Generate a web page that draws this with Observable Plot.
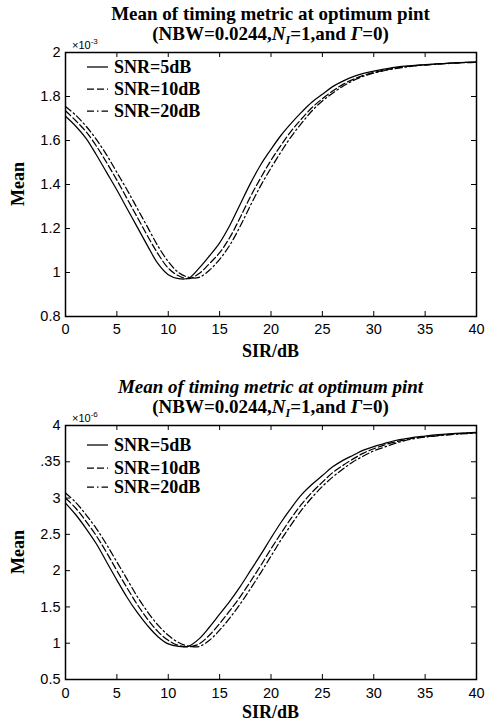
<!DOCTYPE html>
<html><head><meta charset="utf-8">
<script src="https://cdn.jsdelivr.net/npm/d3@7"></script>
<script src="https://cdn.jsdelivr.net/npm/@observablehq/plot@0.6"></script>
<style>body{margin:0;background:#fff} svg{display:block}</style>
</head><body><div id="c"></div>
<script>
const titleLine1 = "Mean of timing metric at optimum pint";
const seriesNames = ["SNR=5dB", "SNR=10dB", "SNR=20dB"];
const xLabel = "SIR/dB";
const yLabel = "Mean";
const sir = d3.range(0, 41); // SIR/dB sample positions 0..40
const xTicks = [0, 5, 10, 15, 20, 25, 30, 35, 40];

// Top chart (×10^-3)
const topTicks = [0.8, 1, 1.2, 1.4, 1.6, 1.8, 2];
const topTickLabels = ["0.8", "1", "1.2", "1.4", "1.6", "1.8", "2"];
const top5 = [1.71,1.665,1.61,1.535,1.455,1.375,1.29,1.205,1.12,1.04,0.99,0.972,0.975,1.02,1.075,1.135,1.215,1.31,1.405,1.49,1.56,1.625,1.68,1.73,1.775,1.81,1.845,1.87,1.89,1.905,1.915,1.924,1.932,1.938,1.942,1.945,1.948,1.951,1.953,1.955,1.957];
const top10 = [1.735,1.69,1.64,1.575,1.50,1.42,1.335,1.25,1.165,1.085,1.02,0.985,0.972,0.995,1.04,1.09,1.16,1.25,1.345,1.43,1.51,1.58,1.645,1.70,1.75,1.79,1.825,1.855,1.878,1.896,1.909,1.919,1.928,1.935,1.94,1.944,1.947,1.95,1.953,1.955,1.956];
const top20 = [1.755,1.715,1.665,1.605,1.535,1.455,1.375,1.29,1.205,1.12,1.05,1.0,0.978,0.978,1.01,1.06,1.125,1.21,1.305,1.395,1.475,1.55,1.62,1.68,1.735,1.78,1.815,1.847,1.872,1.892,1.906,1.917,1.926,1.933,1.939,1.943,1.946,1.949,1.952,1.954,1.955];

// Bottom chart (×10^-6)
const botTicks = [0.5, 1, 1.5, 2, 2.5, 3, 3.5, 4];
const botTickLabels = ["0.5", "1", "1.5", "2", "2.5", "3", ".35", "4"];
const bot5 = [2.93,2.77,2.58,2.37,2.12,1.87,1.63,1.42,1.24,1.09,0.99,0.955,0.96,1.06,1.22,1.40,1.58,1.78,2.00,2.22,2.45,2.67,2.87,3.05,3.19,3.31,3.43,3.52,3.59,3.66,3.71,3.75,3.79,3.815,3.84,3.855,3.87,3.88,3.89,3.898,3.905];
const bot10 = [3.00,2.86,2.68,2.48,2.25,2.00,1.76,1.53,1.33,1.16,1.04,0.97,0.95,0.99,1.11,1.27,1.45,1.64,1.85,2.07,2.30,2.52,2.73,2.92,3.08,3.22,3.35,3.45,3.54,3.62,3.68,3.73,3.77,3.80,3.83,3.845,3.86,3.873,3.885,3.893,3.90];
const bot20 = [3.07,2.94,2.77,2.58,2.36,2.12,1.88,1.64,1.43,1.25,1.11,1.01,0.96,0.955,1.04,1.18,1.35,1.54,1.75,1.97,2.20,2.43,2.64,2.84,3.01,3.16,3.29,3.40,3.50,3.58,3.65,3.70,3.75,3.79,3.82,3.84,3.855,3.868,3.88,3.888,3.895];

const dashes = [null, "7,3", "7,3,1.5,3"];
const serif = "'Liberation Serif', 'Times New Roman', serif";

function makeChart(cfg) {
  const W = 498, ML = 65, MR = 22;
  const innerH = cfg.height - cfg.mt - cfg.mb;
  const innerW = W - ML - MR;
  const lines = cfg.values.map((vals, i) =>
    Plot.line(vals.map((v, j) => ({x: sir[j], y: v})), {
      x: "x", y: "y", stroke: "black", strokeWidth: 1.25,
      strokeDasharray: dashes[i], curve: "catmull-rom"
    }));
  const fmt = d => cfg.labels[cfg.ticks.indexOf(d)];
  const svgEl = Plot.plot({
    width: W, height: cfg.height,
    marginLeft: ML, marginRight: MR, marginTop: cfg.mt, marginBottom: cfg.mb,
    style: {fontFamily: "'Liberation Sans', Arial, sans-serif", fontSize: "14px", color: "black", background: "white"},
    x: {domain: [0, 40]},
    y: {domain: cfg.domain},
    marks: [
      Plot.axisX(xTicks, {tickSize: 0, tickPadding: cfg.xpad, fontSize: 14.5, label: null}),
      Plot.axisY(cfg.ticks, {tickSize: 0, tickPadding: 5, fontSize: 14.5, label: null, tickFormat: fmt}),
      Plot.tickX(xTicks, {x: d => d, insetTop: innerH - 5, stroke: "black"}),
      Plot.tickX(xTicks, {x: d => d, insetBottom: innerH - 5, stroke: "black"}),
      Plot.tickY(cfg.ticks, {y: d => d, insetRight: innerW - 5, stroke: "black"}),
      Plot.tickY(cfg.ticks, {y: d => d, insetLeft: innerW - 5, stroke: "black"}),
      ...lines,
      Plot.frame({stroke: "black", strokeWidth: 1.5})
    ]
  });
  const svg = d3.select(svgEl);
  const cx = ML + innerW / 2;
  // titles
  const g = svg.append("g").attr("font-family", serif).attr("font-weight", "bold")
    .attr("font-size", 19).attr("text-anchor", "middle").attr("fill", "black");
  g.append("text").attr("x", cx).attr("y", cfg.t1).attr("font-style", cfg.italic ? "italic" : null).text(titleLine1);
  const t = g.append("text").attr("x", cx).attr("y", cfg.t2);
  t.append("tspan").text("(NBW=0.0244,");
  t.append("tspan").attr("font-style", "italic").text("N");
  t.append("tspan").attr("font-style", "italic").attr("font-size", 12).attr("dy", 4).text("I");
  t.append("tspan").attr("dy", -4).text("=1,and ");
  t.append("tspan").attr("font-style", "italic").text("Γ");
  t.append("tspan").text("=0)");
  // exponent
  const e = svg.append("text").attr("x", 72).attr("y", cfg.mt - 3).attr("text-anchor", "start")
    .attr("font-family", "'Liberation Sans', Arial, sans-serif").attr("font-size", 11).attr("fill", "black");
  e.append("tspan").text("×10");
  e.append("tspan").attr("font-size", 8).attr("dy", -5).text(cfg.exp);
  // axis labels
  svg.append("text").attr("x", cx).attr("y", cfg.height - 3).attr("text-anchor", "middle")
    .attr("font-family", serif).attr("font-weight", "bold").attr("font-size", 18).text(xLabel);
  const cy = cfg.mt + innerH / 2;
  svg.append("text").attr("transform", `translate(24,${cy}) rotate(-90)`).attr("text-anchor", "middle")
    .attr("font-family", serif).attr("font-weight", "bold").attr("font-size", 18).text(yLabel);
  // legend
  const lg = svg.append("g");
  seriesNames.forEach((name, i) => {
    const y = cfg.legY[i];
    lg.append("line").attr("x1", 87).attr("x2", 108).attr("y1", y).attr("y2", y)
      .attr("stroke", "black").attr("stroke-width", 1.25).attr("stroke-dasharray", dashes[i]);
    lg.append("text").attr("x", 114).attr("y", y + 6).attr("text-anchor", "start").attr("font-family", serif)
      .attr("font-weight", "bold").attr("font-size", 18).text(name);
  });
  return svgEl;
}

const c = document.getElementById("c");
c.appendChild(makeChart({height: 360, mt: 52, mb: 44, domain: [0.8, 2], ticks: topTicks, labels: topTickLabels,
  values: [top5, top10, top20], t1: 20, t2: 40, italic: false, exp: "-3", xpad: 7, legY: [67, 89, 111]}));
c.appendChild(makeChart({height: 361, mt: 65, mb: 42, domain: [0.5, 4], ticks: botTicks, labels: botTickLabels,
  values: [bot5, bot10, bot20], t1: 33, t2: 53, italic: true, exp: "-6", xpad: 8, legY: [85, 108, 127]}));
</script></body></html>
